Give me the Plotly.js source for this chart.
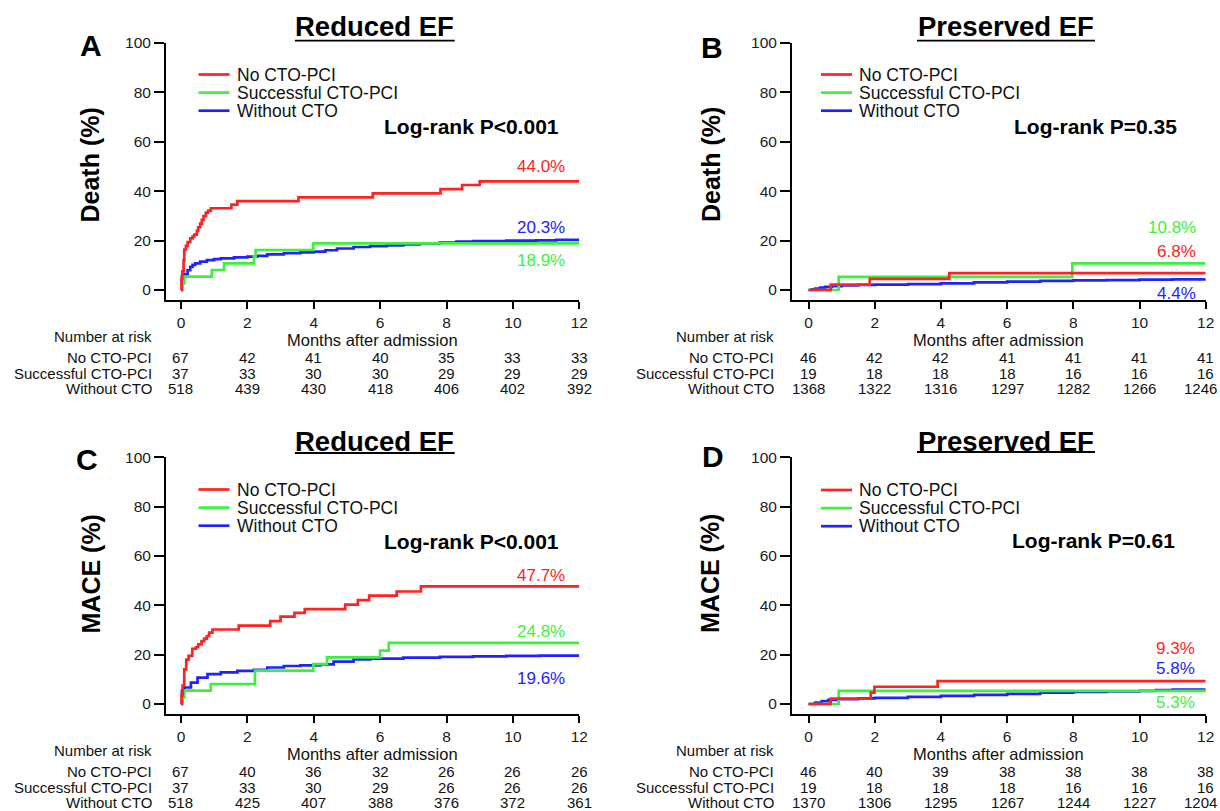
<!DOCTYPE html>
<html>
<head>
<meta charset="utf-8">
<script src="https://cdn.plot.ly/plotly-3.0.1.min.js"></script>
<style>
  html, body { margin: 0; padding: 0; background: #fff; }
  #chart { width: 1220px; height: 811px; }
</style>
</head>
<body>
<div id="chart"></div>
<script>
// ---------------- DATA ----------------
const groups = ['No CTO-PCI', 'Successful CTO-PCI', 'Without CTO'];
const monthTicks = [0, 2, 4, 6, 8, 10, 12];
const yTicks = [0, 20, 40, 60, 80, 100];

// Panel A: Reduced EF, Death
const aRedT = [0, 0.02, 0.04, 0.08, 0.1, 0.15, 0.2, 0.28, 0.35, 0.4, 0.48, 0.52, 0.58, 0.63, 0.68, 0.75, 0.82, 0.9, 1.52, 1.7, 3.54, 5.78, 7.82, 8.47, 9.0, 12];
const aRedV = [0, 4.5, 7.5, 12, 16.4, 17.9, 19.4, 20.9, 21.6, 22.4, 23.9, 25.4, 26.9, 28.4, 29.9, 31.3, 32.1, 33.1, 34.6, 36.0, 37.5, 39.1, 40.8, 42.5, 44.0, 44.0];
const aGreenT = [0, 0.05, 0.1, 0.93, 1.3, 2.2, 2.25, 3.99, 12];
const aGreenV = [0, 2.7, 5.4, 8.1, 10.8, 13.5, 16.2, 18.9, 18.9];
const aBlueT = [0, 0.03, 0.1, 0.2, 0.28, 0.35, 0.43, 0.58, 0.78, 1.0, 1.2, 1.6, 2.0, 2.3, 2.6, 3.1, 3.6, 4.0, 4.35, 4.7, 5.2, 5.7, 6.2, 6.7, 7.2, 7.8, 8.3, 8.8, 9.8, 10.7, 11.3, 12];
const aBlueV = [0, 5.5, 6.3, 8.0, 9.4, 10.2, 10.8, 11.5, 12.1, 12.5, 12.8, 13.2, 13.5, 13.8, 14.4, 14.9, 15.2, 15.5, 16.1, 16.8, 17.4, 17.8, 18.1, 18.5, 18.9, 19.2, 19.6, 19.8, 20.0, 20.1, 20.3, 20.3];

// Panel B: Preserved EF, Death
const bRedT = [0, 0.67, 1.85, 4.25, 12];
const bRedV = [0, 2.2, 4.5, 6.8, 6.8];
const bGreenT = [0, 0.91, 7.97, 12];
const bGreenV = [0, 5.3, 10.8, 10.8];
const bBlueT = [0, 0.1, 0.2, 0.35, 0.5, 0.7, 1.0, 1.5, 2.0, 3.0, 4.0, 5.0, 6.0, 7.0, 8.0, 9.0, 10.0, 11.0, 12];
const bBlueV = [0, 0.3, 0.6, 1.0, 1.3, 1.6, 1.9, 2.1, 2.2, 2.4, 2.7, 3.1, 3.4, 3.7, 3.9, 4.0, 4.2, 4.3, 4.4];

// Panel C: Reduced EF, MACE
const cRedT = [0, 0.02, 0.05, 0.1, 0.16, 0.23, 0.34, 0.45, 0.52, 0.62, 0.7, 0.78, 0.85, 0.95, 1.74, 2.69, 3.0, 3.42, 3.73, 4.95, 5.33, 5.67, 6.5, 7.23, 12];
const cRedV = [0, 3.5, 7.5, 14.0, 18.0, 19.5, 22.4, 23.0, 24.2, 25.5, 26.5, 27.5, 28.9, 30.2, 31.8, 33.6, 35.4, 36.9, 38.5, 40.3, 42.1, 43.9, 45.6, 47.7, 47.7];
const cGreenT = [0, 0.05, 0.1, 0.9, 2.23, 3.99, 4.4, 6.0, 6.26, 12];
const cGreenV = [0, 2.7, 5.4, 8.1, 13.5, 16.2, 18.9, 21.6, 24.8, 24.8];
const cBlueT = [0, 0.03, 0.1, 0.3, 0.5, 0.8, 1.2, 1.7, 2.2, 2.6, 3.1, 3.6, 4.2, 4.6, 5.2, 5.7, 6.7, 7.8, 8.8, 9.8, 10.8, 12];
const cBlueV = [0, 5.4, 6.7, 8.7, 10.7, 12.1, 12.8, 13.4, 13.8, 14.8, 15.4, 15.7, 16.1, 17.2, 18.1, 18.4, 18.8, 19.1, 19.3, 19.5, 19.6, 19.6];

// Panel D: Preserved EF, MACE
const dRedT = [0, 0.67, 1.88, 1.99, 3.9, 12];
const dRedV = [0, 2.2, 4.6, 7.0, 9.3, 9.3];
const dGreenT = [0, 0.91, 12];
const dGreenV = [0, 5.3, 5.3];
const dBlueT = [0, 0.2, 0.4, 0.6, 0.9, 1.5, 2.0, 3.0, 4.0, 5.0, 6.0, 7.0, 8.0, 9.0, 10.0, 10.5, 11.0, 12];
const dBlueV = [0, 0.6, 1.2, 1.7, 2.0, 2.3, 2.5, 2.9, 3.3, 3.7, 4.1, 4.6, 4.9, 5.1, 5.3, 5.6, 5.8, 5.8];

// Final percentages (red, green, blue)
const aFinal = ['44.0%', '18.9%', '20.3%'];
const bFinal = ['6.8%', '10.8%', '4.4%'];
const cFinal = ['47.7%', '24.8%', '19.6%'];
const dFinal = ['9.3%', '5.3%', '5.8%'];

// Number at risk (No CTO-PCI, Successful CTO-PCI, Without CTO)
const aRisk = [[67, 42, 41, 40, 35, 33, 33], [37, 33, 30, 30, 29, 29, 29], [518, 439, 430, 418, 406, 402, 392]];
const bRisk = [[46, 42, 42, 41, 41, 41, 41], [19, 18, 18, 18, 16, 16, 16], [1368, 1322, 1316, 1297, 1282, 1266, 1246]];
const cRisk = [[67, 40, 36, 32, 26, 26, 26], [37, 33, 30, 29, 26, 26, 26], [518, 425, 407, 388, 376, 372, 361]];
const dRisk = [[46, 40, 39, 38, 38, 38, 38], [19, 18, 18, 18, 16, 16, 16], [1370, 1306, 1295, 1267, 1244, 1227, 1204]];

const titles = ['Reduced EF', 'Preserved EF', 'Reduced EF', 'Preserved EF'];
const yTitles = ['Death (%)', 'Death (%)', 'MACE (%)', 'MACE (%)'];
const letters = ['A', 'B', 'C', 'D'];
const pvals = ['Log-rank P<0.001', 'Log-rank P=0.35', 'Log-rank P<0.001', 'Log-rank P=0.61'];

// ---------------- STYLE / LAYOUT ----------------
const W = 1220, H = 811;
const FONT = 'Liberation Sans, Arial, Helvetica, sans-serif';
const COLORS = ['#ff2222', '#3ef03e', '#2222ff'];
const px = x => x / W;
const py = y => 1 - y / H;
const RISK_FONT = 15;
const LEG_FONT = 17.5;

const panels = [
  { xa: 'x', ya: 'y', left: 166, right: 579.3, top: 43, bottom: 300, xmin: -0.45,
    series: [[aRedT, aRedV], [aGreenT, aGreenV], [aBlueT, aBlueV]], fin: aFinal, risk: aRisk,
    letter: [91, 46], title: [374.8, 27, 294.9, 454.7, 40.6], ytitle: [89.5, 165],
    leg: [198.5, 229.5, 236, [74.5, 92.6, 110.7]], pv: [561, 126.7],
    finX: 567, finY: [166.7, 260, 227.7], rowLabelX: 154 },
  { xa: 'x2', ya: 'y2', left: 792, right: 1205.7, top: 43, bottom: 300, xmin: -0.5,
    series: [[bRedT, bRedV], [bGreenT, bGreenV], [bBlueT, bBlueV]], fin: bFinal, risk: bRisk,
    letter: [712, 47], title: [1006, 27, 917, 1095, 40.6], ytitle: [711, 165],
    leg: [821, 852, 858, [74.5, 92.6, 110.7]], pv: [1179, 126.7],
    finX: 1198, finY: [251.7, 227.7, 293.3], rowLabelX: 776 },
  { xa: 'x3', ya: 'y3', left: 166, right: 579.3, top: 457.3, bottom: 714, xmin: -0.45,
    series: [[cRedT, cRedV], [cGreenT, cGreenV], [cBlueT, cBlueV]], fin: cFinal, risk: cRisk,
    letter: [87, 459], title: [374.8, 441, 294.9, 454.7, 453], ytitle: [90, 574.5],
    leg: [198.5, 229.5, 236, [489.5, 507.6, 525.7]], pv: [561, 541],
    finX: 567, finY: [575, 631.7, 678.3], rowLabelX: 154 },
  { xa: 'x4', ya: 'y4', left: 792, right: 1205.7, top: 457.3, bottom: 714, xmin: -0.5,
    series: [[dRedT, dRedV], [dGreenT, dGreenV], [dBlueT, dBlueV]], fin: dFinal, risk: dRisk,
    letter: [713, 456], title: [1006, 441, 917, 1095, 452], ytitle: [710, 574],
    leg: [821, 852, 858, [490, 508.1, 526.2]], pv: [1177, 540.5],
    finX: 1197, finY: [648.3, 702.7, 668.3], rowLabelX: 776 }
];

const traces = [];
const annotations = [];
const shapes = [];
const layout = {
  width: W, height: H,
  margin: { l: 0, r: 0, t: 0, b: 0 },
  paper_bgcolor: '#ffffff', plot_bgcolor: 'rgba(0,0,0,0)',
  showlegend: false,
  font: { family: FONT, color: '#111' },
  annotations: annotations,
  shapes: shapes
};

panels.forEach((p, i) => {
  const n = i === 0 ? '' : String(i + 1);
  [2, 1, 0].forEach(g => {
    traces.push({
      type: 'scatter', mode: 'lines',
      x: p.series[g][0], y: p.series[g][1],
      xaxis: p.xa, yaxis: p.ya,
      name: groups[g],
      line: { color: COLORS[g], width: 2.7, shape: 'hv' },
      hoverinfo: 'skip'
    });
  });

  layout['xaxis' + n] = {
    domain: [px(p.left), px(p.right)], range: [p.xmin, 12], anchor: p.ya,
    tickmode: 'array', tickvals: monthTicks, ticktext: monthTicks.map(String),
    ticks: 'outside', ticklen: 7, tickwidth: 2, tickcolor: '#000',
    showline: true, linewidth: 2, linecolor: '#000',
    showgrid: false, zeroline: false, fixedrange: true,
    tickfont: { family: FONT, size: 15.5, color: '#1a1a1a' }
  };
  layout['yaxis' + n] = {
    domain: [py(p.bottom), py(p.top)], range: [-4.05, 100], anchor: p.xa,
    tickmode: 'array', tickvals: yTicks, ticktext: yTicks.map(String),
    ticks: 'outside', ticklen: 10, tickwidth: 2, tickcolor: '#000',
    showline: true, linewidth: 2, linecolor: '#000',
    showgrid: false, zeroline: false, fixedrange: true,
    tickfont: { family: FONT, size: 15.5, color: '#1a1a1a' }
  };

  // Panel letter
  annotations.push({ xref: 'paper', yref: 'paper', x: px(p.letter[0]), y: py(p.letter[1]),
    xanchor: 'center', yanchor: 'middle', showarrow: false, text: '<b>' + letters[i] + '</b>',
    font: { family: FONT, size: 30, color: '#000' } });
  // Title + underline
  annotations.push({ xref: 'paper', yref: 'paper', x: px(p.title[0]), y: py(p.title[1]),
    xanchor: 'center', yanchor: 'middle', showarrow: false, text: '<b>' + titles[i] + '</b>',
    font: { family: FONT, size: 27.5, color: '#000' } });
  shapes.push({ type: 'line', xref: 'paper', yref: 'paper', x0: px(p.title[2]), x1: px(p.title[3]),
    y0: py(p.title[4]), y1: py(p.title[4]), line: { color: '#000', width: 1.8 } });
  // y-axis title
  annotations.push({ xref: 'paper', yref: 'paper', x: px(p.ytitle[0]), y: py(p.ytitle[1]),
    xanchor: 'center', yanchor: 'middle', showarrow: false, textangle: -90,
    text: '<b>' + yTitles[i] + '</b>', font: { family: FONT, size: 25, color: '#000' } });
  // Legend
  groups.forEach((g, k) => {
    shapes.push({ type: 'line', xref: 'paper', yref: 'paper', x0: px(p.leg[0]), x1: px(p.leg[1]),
      y0: py(p.leg[3][k]), y1: py(p.leg[3][k]), line: { color: COLORS[k], width: 2.7 } });
    annotations.push({ xref: 'paper', yref: 'paper', x: px(p.leg[2]), y: py(p.leg[3][k]),
      xanchor: 'left', yanchor: 'middle', showarrow: false, text: g, borderpad: 0,
      font: { family: FONT, size: LEG_FONT, color: '#111' } });
  });
  // Log-rank
  annotations.push({ xref: 'paper', yref: 'paper', x: px(p.pv[0]), y: py(p.pv[1]),
    xanchor: 'right', yanchor: 'middle', showarrow: false, text: '<b>' + pvals[i] + '</b>',
    font: { family: FONT, size: 21, color: '#000' } });
  // Final percentages
  p.fin.forEach((t, k) => {
    annotations.push({ xref: 'paper', yref: 'paper', x: px(p.finX), y: py(p.finY[k]),
      xanchor: 'right', yanchor: 'middle', showarrow: false, text: t,
      font: { family: FONT, size: 17, color: COLORS[k] } });
  });
  // Axis label & number at risk
  const ab = p.bottom;
  annotations.push({ xref: 'paper', yref: 'paper', x: px((p.left + p.right) / 2), y: py(ab + 39.5),
    xanchor: 'center', yanchor: 'middle', showarrow: false, text: 'Months after admission',
    font: { family: FONT, size: 16.5, color: '#111' } });
  annotations.push({ xref: 'paper', yref: 'paper', x: px(p.rowLabelX), y: py(ab + 36.5),
    xanchor: 'right', yanchor: 'middle', showarrow: false, text: 'Number at risk',
    font: { family: FONT, size: RISK_FONT, color: '#111' } });
  const rowY = [ab + 57.5, ab + 73, ab + 88.5];
  const xPerMonth = (p.right - p.left) / (12 - p.xmin);
  groups.forEach((g, k) => {
    annotations.push({ xref: 'paper', yref: 'paper', x: px(p.rowLabelX), y: py(rowY[k]),
      xanchor: 'right', yanchor: 'middle', showarrow: false, text: g,
      font: { family: FONT, size: RISK_FONT, color: '#111' } });
    p.risk[k].forEach((v, j) => {
      const s = String(v);
      const cx = p.left + (monthTicks[j] - p.xmin) * xPerMonth;
      const halfW = s.length * 0.556 * RISK_FONT / 2 + 1;
      const tooWide = cx + halfW > W - 1;
      annotations.push({ xref: 'paper', yref: 'paper',
        x: tooWide ? px(W - 1) : px(cx), y: py(rowY[k]),
        xanchor: tooWide ? 'right' : 'center', yanchor: 'middle', showarrow: false, text: s,
        font: { family: FONT, size: RISK_FONT, color: '#111' } });
    });
  });
});

Plotly.newPlot('chart', traces, layout, { staticPlot: true, displayModeBar: false });
</script>
</body>
</html>
